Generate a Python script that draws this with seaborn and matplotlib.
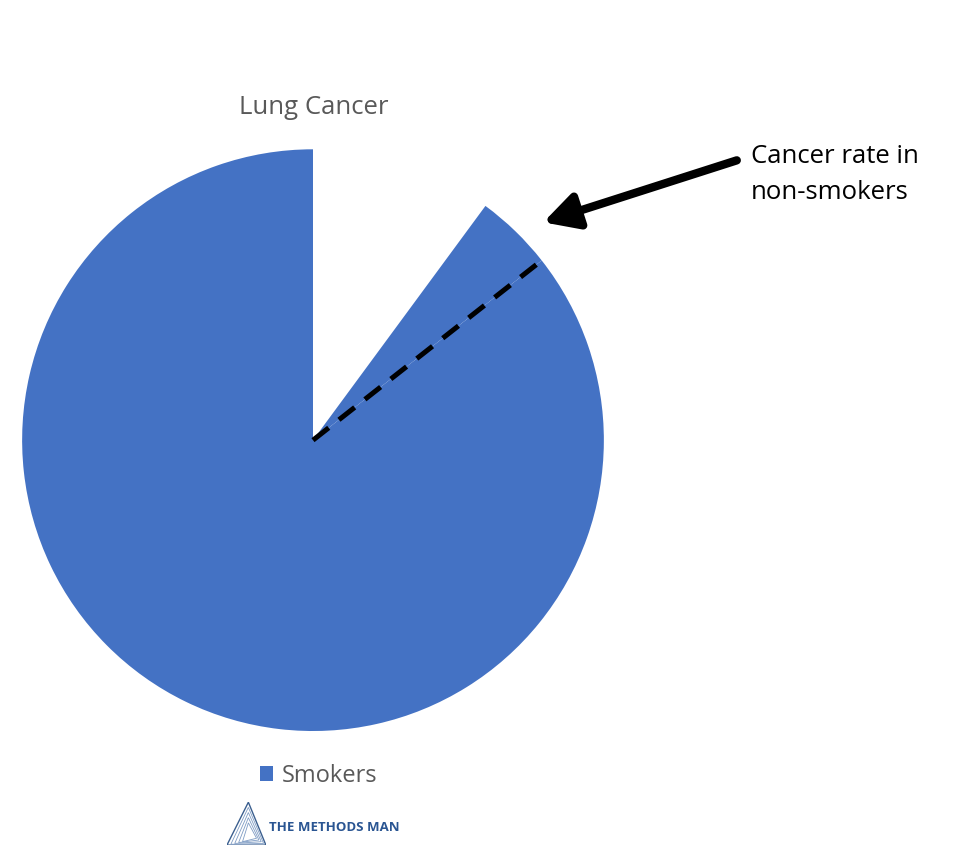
import matplotlib
matplotlib.use("Agg")
import matplotlib.pyplot as plt
import numpy as np
import seaborn as sns
from matplotlib.patches import Polygon

sns.set_style("white")
plt.rcParams["font.family"] = ["Open Sans", "DejaVu Sans"]

# share of the full circle (gap is the part left out of the chart)
labels = ["(gap)", "Non-smokers", "Smokers"]
shares = [10.1, 4.3, 85.6]
BLUE = "#4472C4"

fig = plt.figure(figsize=(9.74, 8.58), dpi=100)
ax = fig.add_axes([0.0226, 0.148, 0.5975, 0.678])

wedges, _ = ax.pie(shares, startangle=90, counterclock=False,
                   colors=["none", BLUE, BLUE],
                   wedgeprops={"linewidth": 0, "antialiased": True})
ax.set_xlim(-1, 1); ax.set_ylim(-1, 1)
ax.set_aspect("equal")
ax.axis("off")

# dashed border between non-smokers and smokers slices
t = np.deg2rad(wedges[1].theta1)
ax.plot([0, np.cos(t)], [0, np.sin(t)], color="black", lw=3.6,
        ls=(0, (4.0, 2.6)), solid_capstyle="butt")

fig.text(0.322, 0.875, "Lung Cancer", ha="center", va="center",
         fontsize=18.5, color="#595959")

# arrow pointing at the non-smokers slice
tip = np.deg2rad((wedges[1].theta1 + wedges[1].theta2) / 2 - 2.5)
ax.annotate("", xy=(1.09 * np.cos(tip), 1.09 * np.sin(tip)), xytext=(1.457, 0.962),
            arrowprops=dict(arrowstyle="-|>,head_length=1.4,head_width=0.75",
                            mutation_scale=14.5, color="black", lw=6,
                            shrinkA=0, shrinkB=0),
            annotation_clip=False)
ax.text(1.505, 0.915, "Cancer rate in\nnon-smokers", ha="left", va="center",
        fontsize=18.5, color="black", linespacing=1.58, clip_on=False)

leg = ax.legend([wedges[2]], ["Smokers"], loc="upper center",
                bbox_to_anchor=(0.51, -0.02), frameon=False, fontsize=17,
                handlelength=0.55, handleheight=0.55, handletextpad=0.35)
for txt in leg.get_texts():
    txt.set_color("#595959")

# watermark logo
logo = fig.add_axes([0.233, 0.015, 0.04, 0.05])
logo.add_patch(Polygon([[0, 0], [1, 0], [0.55, 1]], closed=True, fill=False,
                       edgecolor="#3b5f8f", lw=1))
for k in range(1, 5):
    s = k / 5
    logo.add_patch(Polygon([[0.5 * s, 0.1 * s], [1 - 0.3 * s, 0.2 * s], [0.55, 1 - 0.6 * s]],
                           closed=True, fill=False, edgecolor="#7f9cc4", lw=0.6))
logo.set_xlim(0, 1); logo.set_ylim(0, 1); logo.axis("off")
fig.text(0.276, 0.036, "THE METHODS MAN", fontsize=9.5, fontweight="bold",
         color="#2a5592", ha="left", va="center")

fig.savefig("out.png", dpi=100)
